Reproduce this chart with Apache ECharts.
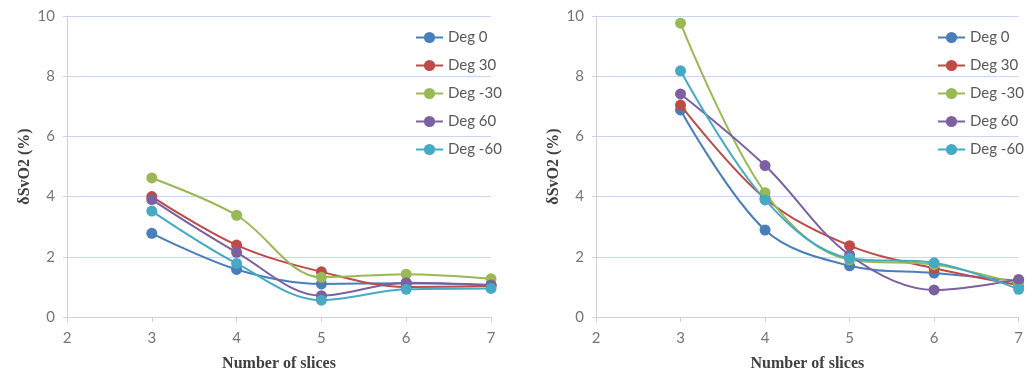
<!DOCTYPE html>
<html><head><meta charset="utf-8">
<script src="https://cdn.jsdelivr.net/npm/echarts@6/dist/echarts.min.js"></script>
<style>html,body{margin:0;padding:0;background:#fff}#c{width:1026px;height:378px}</style>
</head><body><div id="c"></div>
<script>
const slices = [3, 4, 5, 6, 7];
const seriesNames = ['Deg 0', 'Deg 30', 'Deg -30', 'Deg 60', 'Deg -60'];
const colors = ['#4a7ebb', '#be4b48', '#98b954', '#7d60a0', '#46aac5'];
// left panel
const leftDeg0   = [2.78, 1.58, 1.10, 1.12, 1.06];
const leftDeg30  = [4.00, 2.39, 1.50, 1.00, 1.03];
const leftDegM30 = [4.62, 3.38, 1.32, 1.42, 1.27];
const leftDeg60  = [3.90, 2.15, 0.71, 1.14, 1.06];
const leftDegM60 = [3.52, 1.78, 0.56, 0.92, 0.95];
// right panel
const rightDeg0   = [6.88, 2.89, 1.70, 1.46, 1.20];
const rightDeg30  = [7.04, 3.94, 2.37, 1.62, 1.06];
const rightDegM30 = [9.76, 4.13, 1.90, 1.74, 1.10];
const rightDeg60  = [7.41, 5.03, 2.06, 0.90, 1.25];
const rightDegM60 = [8.18, 3.89, 1.95, 1.80, 0.92];
const yTitle = 'δSvO2 (%)';
const xTitle = 'Number of slices';

const leftData = [leftDeg0, leftDeg30, leftDegM30, leftDeg60, leftDegM60];
const rightData = [rightDeg0, rightDeg30, rightDegM30, rightDeg60, rightDegM60];

const chart = echarts.init(document.getElementById('c'));
const tickFont = {color: '#767676', fontSize: 15, fontFamily: 'Lato, Liberation Sans, Arial, sans-serif'};
const titleFont = {color: '#404040', fontSize: 16, fontWeight: 'bold', fontFamily: 'Liberation Serif, Times New Roman, serif'};

function xAx(i) {
  return {
    type: 'value', gridIndex: i, min: 2, max: 7, interval: 1,
    name: xTitle, nameLocation: 'middle', nameGap: 39, nameTextStyle: titleFont,
    axisLine: {show: true, lineStyle: {color: '#d0d0d0', width: 1}},
    axisTick: {show: true, length: 5, lineStyle: {color: '#d0d0d0'}},
    axisLabel: Object.assign({margin: 14}, tickFont),
    splitLine: {show: false}
  };
}
function yAx(i) {
  return {
    type: 'value', gridIndex: i, min: 0, max: 10, interval: 2,
    name: yTitle, nameLocation: 'middle', nameGap: 34, nameRotate: 90, nameTextStyle: titleFont,
    axisLine: {show: true, lineStyle: {color: '#d0d0d0', width: 1}},
    axisTick: {show: true, length: 4, lineStyle: {color: '#d0d0d0'}},
    axisLabel: Object.assign({margin: 12}, tickFont),
    splitLine: {show: true, lineStyle: {color: '#c9d6ef', width: 1}}
  };
}
const series = [];
[leftData, rightData].forEach((panel, gi) => {
  panel.forEach((vals, k) => {
    series.push({
      name: seriesNames[k], type: 'line', xAxisIndex: gi, yAxisIndex: gi,
      data: slices.map((s, j) => [s, vals[j]]),
      smooth: 0.35, symbol: 'circle', symbolSize: 11,
      lineStyle: {width: 2, color: colors[k]},
      itemStyle: {color: colors[k]},
      z: 2 + k
    });
  });
});
function legend(left) {
  return {
    data: seriesNames, orient: 'vertical', left: left, top: 30, padding: 0,
    itemWidth: 27, itemHeight: 14, itemGap: 13,
    textStyle: {color: '#595959', fontSize: 15, lineHeight: 14, fontFamily: 'Lato, Liberation Sans, Arial, sans-serif'},
    selectedMode: false
  };
}
chart.setOption({
  animation: false,
  color: colors,
  grid: [
    {left: 67, width: 424, top: 16, bottom: 61},
    {left: 596, width: 424, top: 16, bottom: 61}
  ],
  xAxis: [xAx(0), xAx(1)],
  yAxis: [yAx(0), yAx(1)],
  legend: [legend(415), legend(937)],
  series: series
});
</script></body></html>
